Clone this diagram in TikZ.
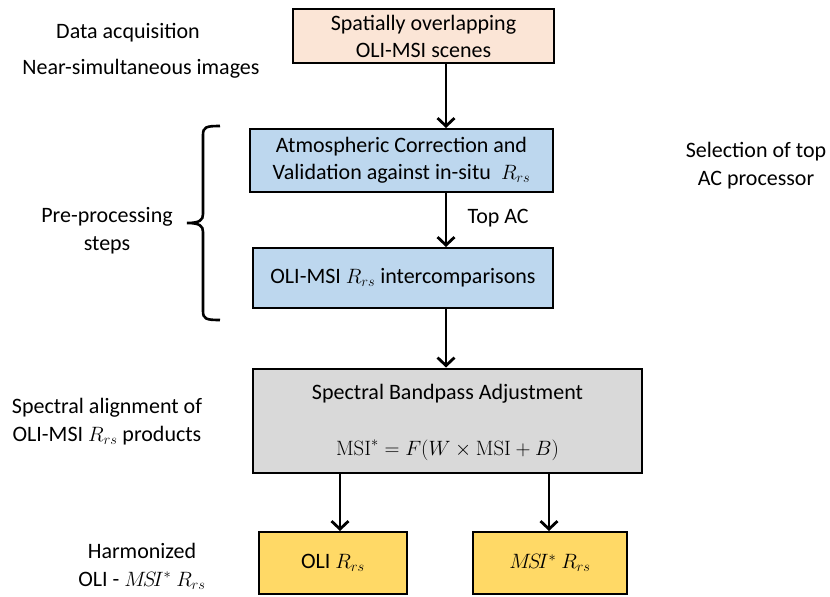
\documentclass[tikz,border=0pt]{standalone}
\usepackage[no-math]{fontspec}
\setmainfont{Carlito}
\usetikzlibrary{arrows.meta}
\definecolor{peach}{HTML}{FBE5D6}
\definecolor{lblue}{HTML}{BDD7EE}
\definecolor{lgray}{HTML}{D9D9D9}
\definecolor{lyellow}{HTML}{FFD966}
\begin{document}
\begin{tikzpicture}[x=1pt,y=-1pt,
  box/.style={draw=black,line width=2pt,align=center,font=\fontsize{22}{27}\selectfont,inner sep=2pt},
  lbl/.style={align=center,font=\fontsize{22}{28}\selectfont},
  arr/.style={line width=2.8pt,-{Straight Barb[length=8pt,width=17pt,line width=2.8pt]}}]
\useasboundingbox (0,0) rectangle (830,597);
\node[box,fill=peach,minimum width=261pt,minimum height=54pt] (b1) at (423.5,36) {Spatially overlapping\\OLI-MSI scenes};
\node[box,fill=lblue,minimum width=303pt,minimum height=63pt] (b2) at (401.5,160.5) {Atmospheric Correction and\\Validation against in-situ\ \ $R_{rs}$};
\node[box,fill=lblue,minimum width=300pt,minimum height=60pt] (b3) at (403,278) {OLI-MSI $R_{rs}$ intercomparisons};
\node[box,fill=lgray,minimum width=389pt,minimum height=104pt] (b4) at (447.5,420.5) {};
\node[lbl] (t4a) at (447.5,394) {Spectral Bandpass Adjustment};
\node[lbl] (t4b) at (447.5,450) {$\mathrm{MSI}^{*}=F(W\times\mathrm{MSI}+B)$};
\node[box,fill=lyellow,minimum width=148pt,minimum height=62pt] (b5) at (333,563) {OLI $R_{rs}$};
\node[box,fill=lyellow,minimum width=154pt,minimum height=62pt] (b6) at (550,563) {$M\!S\!I^{*}$ $R_{rs}$};
\coordinate (ax) at (446,0);
\coordinate (al) at (340,0);
\coordinate (ar) at (549,0);
\draw[arr] (b1.south -| ax) -- (b2.north -| ax);
\draw[arr] (b2.south -| ax) -- (b3.north -| ax);
\draw[arr] (b3.south -| ax) -- (b4.north -| ax);
\draw[arr] (b4.south -| al) -- (b5.north -| al);
\draw[arr] (b4.south -| ar) -- (b6.north -| ar);
\node[lbl,anchor=west] (topac) at (464,218) {Top AC};
\node[lbl] (l1) at (128,33) {Data acquisition};
\node[lbl] (l2) at (141,69) {Near-simultaneous images};
\node[lbl] (l3) at (756,166) {Selection of top\\AC processor};
\node[lbl] (l4) at (107,231) {Pre-processing\\steps};
\node[lbl] (l5) at (107,422) {Spectral alignment of\\OLI-MSI $R_{rs}$ products};
\node[lbl] (l6) at (142,566) {Harmonized\\OLI - $M\!S\!I^{*}$ $R_{rs}$};
\draw[line width=2.6pt] (220,126) .. controls (206,126) and (203,127) .. (203,135) -- (203,214)
  .. controls (203,220) and (200,223) .. (187,223)
  .. controls (200,223) and (203,226) .. (203,232) -- (203,311)
  .. controls (203,319) and (206,320) .. (220,320);
\end{tikzpicture}
\end{document}
